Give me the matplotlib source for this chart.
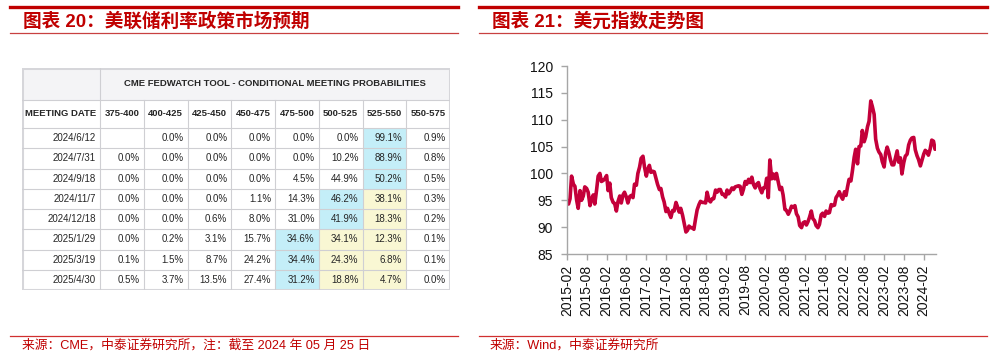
import numpy as np
import pandas as pd
import matplotlib
matplotlib.use('Agg')
import matplotlib.pyplot as plt
import matplotlib.dates as mdates
from matplotlib.patches import Rectangle
from matplotlib.lines import Line2D

plt.rcParams['font.family'] = ['Liberation Sans', 'Noto Sans CJK SC', 'DejaVu Sans']

# ---- left: CME FedWatch table
meetings = ['2024/6/12', '2024/7/31', '2024/9/18', '2024/11/7', '2024/12/18',
            '2025/1/29', '2025/3/19', '2025/4/30']
rate_bins = ['375-400', '400-425', '425-450', '450-475', '475-500', '500-525',
             '525-550', '550-575']
probs = [
    [None, 0.0, 0.0, 0.0, 0.0, 0.0, 99.1, 0.9],
    [0.0, 0.0, 0.0, 0.0, 0.0, 10.2, 88.9, 0.8],
    [0.0, 0.0, 0.0, 0.0, 4.5, 44.9, 50.2, 0.5],
    [0.0, 0.0, 0.0, 1.1, 14.3, 46.2, 38.1, 0.3],
    [0.0, 0.0, 0.6, 8.0, 31.0, 41.9, 18.3, 0.2],
    [0.0, 0.2, 3.1, 15.7, 34.6, 34.1, 12.3, 0.1],
    [0.1, 1.5, 8.7, 24.2, 34.4, 24.3, 6.8, 0.1],
    [0.5, 3.7, 13.5, 27.4, 31.2, 18.8, 4.7, 0.0],
]
current_bin = '525-550'

# ---- right: US dollar index, semi-monthly (1st / 15th)
dxy_2015 = [94.5, 94.3, 95.3, 99.5, 98.0, 97.6, 95.0, 93.5, 96.8, 95.0, 95.8, 97.5,
            97.2, 96.5, 94.0, 95.2, 96.0, 94.3, 97.0, 99.5, 100.0, 98.5]
dxy_2016 = [98.7, 99.0, 99.6, 96.8, 98.2, 95.5, 94.6, 94.4, 93.0, 94.7, 95.8, 94.5,
            96.0, 96.5, 95.6, 94.5, 95.7, 95.9, 95.5, 98.0, 97.8, 100.0, 101.2, 102.8]
dxy_2017 = [103.2, 101.2, 99.5, 100.8, 101.5, 100.2, 100.4, 100.3, 99.1, 98.0, 97.0, 97.2,
            95.6, 94.7, 92.9, 93.5, 92.5, 91.8, 93.1, 93.0, 94.6, 93.8, 92.8, 93.5]
dxy_2018 = [92.2, 90.8, 89.1, 89.4, 90.2, 89.9, 89.9, 89.6, 91.6, 93.2, 94.2, 94.8,
            94.6, 94.6, 94.5, 96.5, 95.0, 94.7, 95.3, 95.3, 96.9, 96.5, 97.0, 97.0]
dxy_2019 = [96.1, 96.1, 95.6, 96.9, 96.2, 96.6, 97.3, 97.0, 97.5, 97.6, 97.7, 97.6,
            96.1, 97.0, 98.5, 98.0, 98.9, 98.3, 99.3, 98.0, 97.3, 98.0, 98.3, 97.2]
dxy_2020 = [96.4, 97.3, 97.4, 99.1, 95.5, 102.5, 99.0, 99.9, 99.0, 100.0, 98.3, 97.0,
            97.4, 96.0, 93.3, 93.1, 92.4, 93.0, 93.9, 93.7, 94.0, 92.5, 91.9, 90.3]
dxy_2021 = [89.9, 90.8, 91.0, 90.4, 91.0, 91.8, 93.0, 91.6, 91.2, 90.3, 89.9, 90.5,
            92.3, 92.6, 92.0, 93.0, 92.6, 92.7, 94.2, 94.0, 94.1, 95.5, 96.0, 96.6]
dxy_2022 = [95.7, 95.2, 96.6, 95.9, 97.5, 98.9, 98.6, 100.5, 103.0, 104.5, 101.8, 105.0,
            105.1, 108.0, 105.9, 106.8, 108.7, 109.7, 113.5, 112.5, 111.0, 106.4, 104.7, 104.0]
dxy_2023 = [103.5, 102.2, 101.2, 103.8, 104.9, 104.0, 102.5, 101.6, 101.6, 102.8, 104.2, 102.1,
            102.9, 99.9, 102.0, 103.2, 103.6, 105.3, 106.2, 106.6, 106.7, 104.4, 103.3, 102.6]
dxy_2024 = [101.4, 102.4, 103.6, 104.3, 104.0, 103.4, 104.6, 106.2, 106.0, 104.5]
last_date, last_value = '2024-05-24', 104.7

dxy = dxy_2015 + dxy_2016 + dxy_2017 + dxy_2018 + dxy_2019 + dxy_2020 + \
    dxy_2021 + dxy_2022 + dxy_2023 + dxy_2024 + [last_value]
dates = list(pd.date_range('2015-02-01', periods=len(dxy) - 1, freq='SMS')) + \
    [pd.Timestamp(last_date)]

RED = '#c00000'
fig = plt.figure(figsize=(10.02, 3.62), dpi=100)

# frame lines and titles
def hline(x0, x1, y, lw, color):
    fig.add_artist(Line2D([x0 / 1002, x1 / 1002], [1 - y / 362, 1 - y / 362],
                          transform=fig.transFigure, lw=lw, color=color))

for x0, x1 in [(10, 458), (479, 987)]:
    hline(x0, x1, 7, 2.4, '#c00000')
    hline(x0, x1, 33, 0.9, '#c84040')
    hline(x0, x1, 336, 0.9, '#d03030')

fig.text(23 / 1002, 1 - 21.5 / 362, '图表 20：美联储利率政策市场预期', color=RED,
         fontsize=13.4, fontweight='bold', va='center', ha='left')
fig.text(492 / 1002, 1 - 21.5 / 362, '图表 21：美元指数走势图', color=RED,
         fontsize=13.4, fontweight='bold', va='center', ha='left')
fig.text(22 / 1002, 1 - 345.5 / 362, '来源：CME，中泰证券研究所，注：截至 2024 年 05 月 25 日',
         color=RED, fontsize=9.2, va='center', ha='left')
fig.text(490 / 1002, 1 - 345.5 / 362, '来源：Wind，中泰证券研究所',
         color=RED, fontsize=9.2, va='center', ha='left')

# ---- table
tax = fig.add_axes([22 / 1002, 1 - 290 / 362, 428 / 1002, 222 / 362])
tax.set_xlim(0, 428)
tax.set_ylim(222, 0)
tax.axis('off')

col_w = [78] + [43.75] * len(rate_bins)
row_h = [32, 28] + [20.25] * len(meetings)
xe = np.concatenate([[0], np.cumsum(col_w)])
ye = np.concatenate([[0], np.cumsum(row_h)])
GRID = '#cfcfd3'
TXT = '#262626'
BLUE = '#c4eef8'
YEL = '#f9f7d3'

tax.add_patch(Rectangle((0, 0), xe[-1], row_h[0], facecolor='#f4f4f6', edgecolor='none'))
tax.text((xe[1] + xe[-1]) / 2, row_h[0] / 2, 'CME FEDWATCH TOOL - CONDITIONAL MEETING PROBABILITIES',
         ha='center', va='center', fontsize=6.8, fontweight='bold', color=TXT)
tax.text(xe[1] / 2, (ye[1] + ye[2]) / 2, 'MEETING DATE', ha='center', va='center',
         fontsize=6.8, fontweight='bold', color=TXT)
for j, b in enumerate(rate_bins):
    tax.text((xe[j + 1] + xe[j + 2]) / 2, (ye[1] + ye[2]) / 2, b, ha='center', va='center',
             fontsize=6.8, fontweight='bold', color=TXT)

cur = rate_bins.index(current_bin)
for i, (m, row) in enumerate(zip(meetings, probs)):
    y0, y1 = ye[i + 2], ye[i + 3]
    vals = [v if v is not None else -1 for v in row]
    jmax = int(np.argmax(vals))
    for j, v in enumerate(row):
        fc = None
        if j == jmax:
            fc = BLUE
        elif jmax < j <= cur:
            fc = YEL
        if fc:
            tax.add_patch(Rectangle((xe[j + 1], y0), col_w[j + 1], y1 - y0,
                                    facecolor=fc, edgecolor='none'))
        if v is not None:
            tax.text(xe[j + 2] - 4, (y0 + y1) / 2, f'{v:.1f}%', ha='right', va='center',
                     fontsize=7, color=TXT)
    tax.text(xe[1] - 4, (y0 + y1) / 2, m, ha='right', va='center', fontsize=7, color=TXT)

for y in ye[1:-1]:
    tax.plot([0, xe[-1]], [y, y], color=GRID, lw=0.8)
tax.plot([xe[1], xe[1]], [0, ye[-1]], color=GRID, lw=0.8)
for x in xe[2:-1]:
    tax.plot([x, x], [ye[1], ye[-1]], color=GRID, lw=0.8)
tax.add_patch(Rectangle((0, 0), xe[-1], ye[-1], facecolor='none', edgecolor='#d6d6da', lw=2.2))

# ---- dollar index chart
ax = fig.add_axes([567 / 1002, 1 - 254 / 362, (936 - 567) / 1002, (254 - 66) / 362])
ax.plot(dates, dxy, color='#c4003a', lw=2.6)
ax.set_ylim(85, 120)
ax.set_yticks(np.arange(85, 121, 5))
ax.set_xlim(pd.Timestamp('2015-02-01'), pd.Timestamp(last_date))
ax.xaxis.set_major_locator(mdates.MonthLocator(bymonth=[2, 8]))
ax.xaxis.set_major_formatter(mdates.DateFormatter('%Y-%m'))
for s in ['top', 'right']:
    ax.spines[s].set_visible(False)
for s in ['left', 'bottom']:
    ax.spines[s].set_color('#a6a6a6')
    ax.spines[s].set_linewidth(1.0)
ax.tick_params(axis='both', colors='#a6a6a6', labelcolor='#111111', labelsize=10,
               length=4, width=1)
ax.tick_params(axis='y', pad=6)
ax.tick_params(axis='x', labelrotation=90)

fig.savefig('out.png', dpi=100)
